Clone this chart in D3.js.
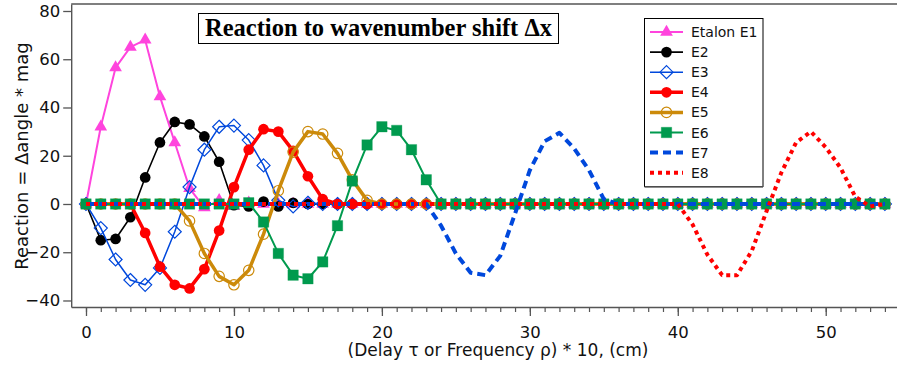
<!DOCTYPE html>
<html>
<head>
<meta charset="utf-8">
<script src="https://cdn.jsdelivr.net/npm/d3@7/dist/d3.min.js"></script>
<style>
  html, body { margin: 0; padding: 0; background: #fff; }
  svg { display: block; font-family: "DejaVu Sans", sans-serif; }
  .title-text { font-family: "Liberation Serif", "Times New Roman", serif; font-weight: bold; }
</style>
</head>
<body>
<svg id="chart" width="897" height="368"></svg>
<script>
// Sample positions: delay / frequency steps 0..54
const positions = d3.range(0, 55);

// Reaction of each etalon, one value per sample position
const etalonE1 = [
  0, 32, 56.5, 65, 68, 44.5, 25.5, 6.5, -1.5, 1.5, -1,
  0.5, 0, 0, 0, 0, 0, 0, 0, 0, 0, 0,
  0, 0, 0, 0, 0, 0, 0, 0, 0, 0, 0,
  0, 0, 0, 0, 0, 0, 0, 0, 0, 0, 0,
  0, 0, 0, 0, 0, 0, 0, 0, 0, 0, 0
];
const etalonE2 = [
  0, -15, -14.5, -5.5, 11, 25.5, 34, 33, 28, 17.5, -0.5,
  -1, 1, -1, 0.5, 0, 0, 0, 0, 0, 0, 0,
  0, 0, 0, 0, 0, 0, 0, 0, 0, 0, 0,
  0, 0, 0, 0, 0, 0, 0, 0, 0, 0, 0,
  0, 0, 0, 0, 0, 0, 0, 0, 0, 0, 0
];
const etalonE3 = [
  0, -10, -23, -31.5, -33.5, -26.5, -11.5, 7, 22.5, 32, 32.5,
  26.5, 16, 1.5, -1, 0.5, 0, 0, 0, 0, 0, 0,
  0, 0, 0, 0, 0, 0, 0, 0, 0, 0, 0,
  0, 0, 0, 0, 0, 0, 0, 0, 0, 0, 0,
  0, 0, 0, 0, 0, 0, 0, 0, 0, 0, 0
];
const etalonE4 = [
  0, 0, 0, 0, -12, -26, -33.5, -35, -27, -11, 7,
  22.5, 31, 30, 22, 11.5, 2, 0, 0, 0, 0, 0,
  0, 0, 0, 0, 0, 0, 0, 0, 0, 0, 0,
  0, 0, 0, 0, 0, 0, 0, 0, 0, 0, 0,
  0, 0, 0, 0, 0, 0, 0, 0, 0, 0, 0
];
const etalonE5 = [
  0, 0, 0, 0, 0, 0, 0, -7, -20.5, -30, -33.5,
  -27.5, -12.5, 5.5, 21.5, 30, 29, 21, 10, 1.5, 0, 0,
  0, 0, 0, 0, 0, 0, 0, 0, 0, 0, 0,
  0, 0, 0, 0, 0, 0, 0, 0, 0, 0, 0,
  0, 0, 0, 0, 0, 0, 0, 0, 0, 0, 0
];
const etalonE6 = [
  0, 0, 0, 0, 0, 0, 0, 0, 0, 0, 0,
  0.5, -7.5, -20.5, -29.5, -31, -24, -9, 9.5, 24.5, 32, 30.5,
  22.5, 10, 0, 0, 0, 0, 0, 0, 0, 0, 0,
  0, 0, 0, 0, 0, 0, 0, 0, 0, 0, 0,
  0, 0, 0, 0, 0, 0, 0, 0, 0, 0, 0
];
const etalonE7 = [
  0, 0, 0, 0, 0, 0, 0, 0, 0, 0, 0,
  0, 0, 0, 0, 0, 0, 0, 0, 0, 0, 0,
  0, 0, -9, -20.5, -28.5, -29.5, -21.5, -4, 14, 26, 29.5,
  23, 14, 2, 0, 0, 0, 0, 0, 0, 0, 0,
  0, 0, 0, 0, 0, 0, 0, 0, 0, 0, 0
];
const etalonE8 = [
  0, 0, 0, 0, 0, 0, 0, 0, 0, 0, 0,
  0, 0, 0, 0, 0, 0, 0, 0, 0, 0, 0,
  0, 0, 0, 0, 0, 0, 0, 0, 0, 0, 0,
  0, 0, 0, 0, 0, 0, 0, 0, -8.5, -21, -29.5,
  -29.5, -19.5, -3, 13, 25.5, 30, 23.5, 15, 3, -1, 0
];

const seriesNames = ["Etalon E1", "E2", "E3", "E4", "E5", "E6", "E7", "E8"];
const xTickValues = [0, 10, 20, 30, 40, 50];
const yTickValues = [-40, -20, 0, 20, 40, 60, 80];
const titleText = "Reaction to wavenumber shift Δx";
const xLabel = "(Delay τ or Frequency ρ) * 10, (cm)";
const yLabel = "Reaction = Δangle * mag";

// Drawing style for each series
const styles = [
  { color: "#ff44dd", width: 2,   marker: "triangle" },
  { color: "#000000", width: 1.6, marker: "circle" },
  { color: "#0048dc", width: 1.5, marker: "diamond" },
  { color: "#ff0000", width: 3.5, marker: "circle" },
  { color: "#cc8a0a", width: 3.5, marker: "ring" },
  { color: "#009a4e", width: 2,   marker: "square" },
  { color: "#0048dc", width: 4,   marker: null, dash: "8,5" },
  { color: "#ff0000", width: 4,   marker: null, dash: "4,4" }
];

const valuesList = [etalonE1, etalonE2, etalonE3, etalonE4, etalonE5, etalonE6, etalonE7, etalonE8];
const series = seriesNames.map((name, i) => ({
  name, style: styles[i],
  points: positions.map((p, j) => ({ x: p, y: valuesList[i][j] }))
}));

const svg = d3.select("#chart");

const x = d3.scaleLinear().domain([-1, 55]).range([71.2, 899.7]);
const y = d3.scaleLinear().domain([-42.7, 82.9]).range([307, 4]);

const axisColor = "#555";

// Frame top line
svg.append("line")
  .attr("x1", x.range()[0]).attr("x2", 897)
  .attr("y1", y.range()[1]).attr("y2", y.range()[1])
  .attr("stroke", axisColor).attr("stroke-width", 1.4);

// Minor x ticks
svg.append("g")
  .attr("transform", `translate(0,${y.range()[0]})`)
  .call(d3.axisBottom(x).tickValues(positions).tickSize(5).tickSizeOuter(0).tickFormat(""))
  .call(g => g.select(".domain").remove())
  .call(g => g.selectAll("line").attr("stroke", axisColor).attr("stroke-width", 1.2));

// Major x axis
svg.append("g")
  .attr("transform", `translate(0,${y.range()[0]})`)
  .call(d3.axisBottom(x).tickValues(xTickValues).tickSize(9).tickSizeOuter(0).tickPadding(10).tickFormat(d3.format("d")))
  .call(g => g.attr("font-family", null))
  .call(g => g.select(".domain").attr("stroke", axisColor).attr("stroke-width", 1.4))
  .call(g => g.selectAll("line").attr("stroke", axisColor).attr("stroke-width", 1.3))
  .call(g => g.selectAll("text").attr("font-size", 16.5).attr("fill", "#111"));

// Y axis
svg.append("g")
  .attr("transform", `translate(${x.range()[0]},0)`)
  .call(d3.axisLeft(y).tickValues(yTickValues).tickSize(8).tickSizeOuter(0).tickPadding(3).tickFormat(d3.format("d")))
  .call(g => g.attr("font-family", null))
  .call(g => g.select(".domain").attr("stroke", axisColor).attr("stroke-width", 1.4))
  .call(g => g.selectAll("line").attr("stroke", axisColor).attr("stroke-width", 1.3))
  .call(g => g.selectAll("text").attr("font-size", 16.5).attr("fill", "#111"));

// Axis labels
svg.append("text")
  .attr("transform", "translate(28,156) rotate(-90)")
  .attr("text-anchor", "middle")
  .attr("font-size", 18)
  .attr("fill", "#111")
  .text(yLabel);

svg.append("text")
  .attr("x", 498).attr("y", 356)
  .attr("text-anchor", "middle")
  .attr("font-size", 17)
  .attr("fill", "#111")
  .text(xLabel);

// Plot area clip
svg.append("clipPath").attr("id", "plotClip")
  .append("rect")
  .attr("x", x.range()[0]).attr("y", y.range()[1])
  .attr("width", 897 - x.range()[0]).attr("height", y.range()[0] - y.range()[1]);

const plot = svg.append("g").attr("clip-path", "url(#plotClip)");

const line = d3.line().x(d => x(d.x)).y(d => y(d.y));

function markerPath(kind) {
  switch (kind) {
    case "triangle": return d3.symbol(d3.symbolTriangle, 70)();
    case "circle":   return d3.symbol(d3.symbolCircle, 90)();
    case "ring":     return d3.symbol(d3.symbolCircle, 85)();
    case "square":   return d3.symbol(d3.symbolSquare, 110)();
    case "diamond":  { const r = 6.5; return `M0,${-r}L${r},0L0,${r}L${-r},0Z`; }
  }
  return null;
}

function drawMarker(sel, style) {
  const k = style.marker;
  const open = (k === "ring" || k === "diamond");
  sel.attr("d", markerPath(k))
    .attr("fill", open ? "none" : style.color)
    .attr("stroke", style.color)
    .attr("stroke-width", open ? 1.2 : (k === "square" ? 0.6 : 0))
    .attr("stroke-opacity", k === "square" ? 0.5 : 1);
}

series.forEach(s => {
  const g = plot.append("g");
  g.append("path")
    .datum(s.points)
    .attr("d", line)
    .attr("fill", "none")
    .attr("stroke", s.style.color)
    .attr("stroke-width", s.style.width)
    .attr("stroke-dasharray", s.style.dash || null)
    .attr("stroke-linejoin", "round");
  if (s.style.marker) {
    g.selectAll("path.mk")
      .data(s.points)
      .join("path")
      .attr("class", "mk")
      .attr("transform", d => `translate(${x(d.x)},${y(d.y)})`)
      .call(drawMarker, s.style);
  }
});

// Title box
const title = svg.append("g");
title.append("rect")
  .attr("x", 198.5).attr("y", 13.5).attr("width", 360).attr("height", 30)
  .attr("fill", "#fff").attr("stroke", "#000").attr("stroke-width", 1);
title.append("text")
  .attr("class", "title-text")
  .attr("x", 378.5).attr("y", 35.5)
  .attr("text-anchor", "middle")
  .attr("font-size", 24.5)
  .attr("fill", "#000")
  .text(titleText);

// Legend
const legend = svg.append("g");
legend.append("rect")
  .attr("x", 644.5).attr("y", 18.5).attr("width", 118.5).attr("height", 168)
  .attr("fill", "#fff").attr("stroke", "#000").attr("stroke-width", 1);
legend.append("line")
  .attr("x1", 644.5).attr("x2", 763).attr("y1", 187).attr("y2", 187)
  .attr("stroke", "#666").attr("stroke-width", 1.6);

series.forEach((s, i) => {
  const cy = 32 + i * 20.1;
  const row = legend.append("g");
  row.append("line")
    .attr("x1", 650).attr("x2", 683)
    .attr("y1", cy).attr("y2", cy)
    .attr("stroke", s.style.color)
    .attr("stroke-width", s.style.width)
    .attr("stroke-dasharray", s.style.dash || null);
  if (s.style.marker) {
    row.append("path")
      .attr("transform", `translate(666.5,${cy})`)
      .call(drawMarker, s.style);
  }
  row.append("text")
    .attr("x", 691).attr("y", cy + 5)
    .attr("font-size", 14)
    .attr("fill", "#111")
    .text(s.name);
});
</script>
</body>
</html>
